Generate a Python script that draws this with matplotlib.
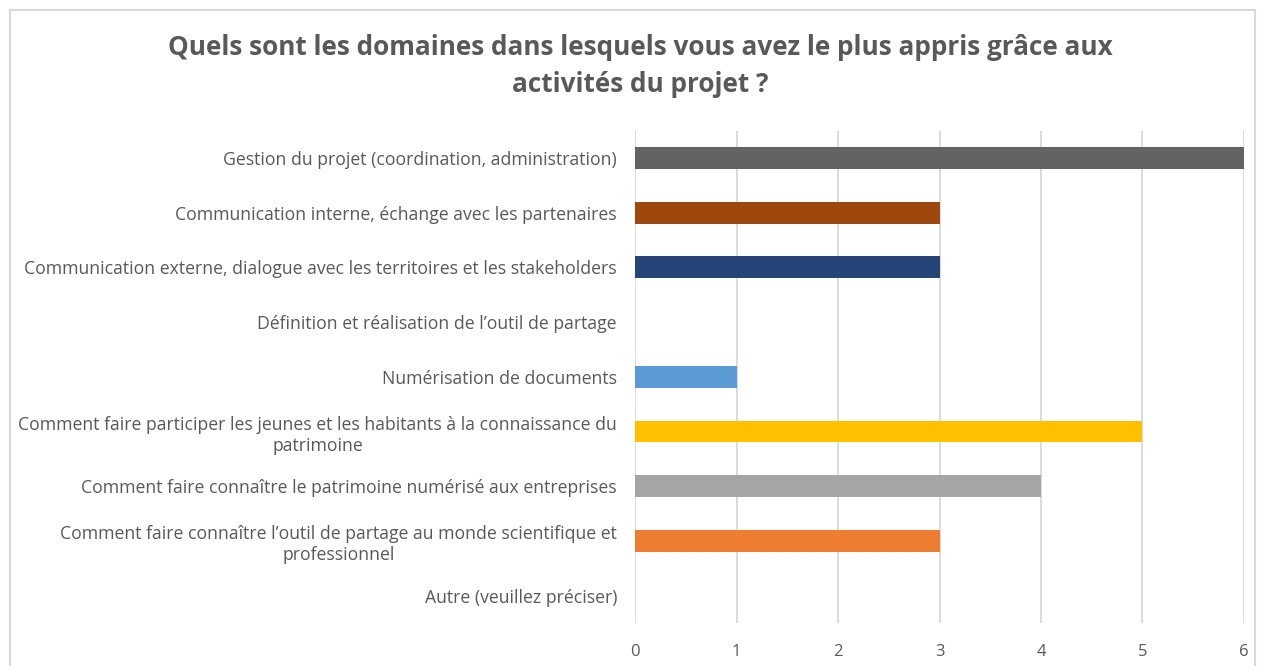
import matplotlib
matplotlib.use("Agg")
import matplotlib.pyplot as plt
from matplotlib.patches import Rectangle

plt.rcParams['font.family'] = ['Open Sans', 'DejaVu Sans']

categories = [
    "Gestion du projet (coordination, administration)",
    "Communication interne, échange avec les partenaires",
    "Communication externe, dialogue avec les territoires et les stakeholders",
    "Définition et réalisation de l\u2019outil de partage",
    "Numérisation de documents",
    "Comment faire participer les jeunes et les habitants à la connaissance du\npatrimoine",
    "Comment faire connaître le patrimoine numérisé aux entreprises",
    "Comment faire connaître l\u2019outil de partage au monde scientifique et\nprofessionnel",
    "Autre (veuillez préciser)",
]
values = [6, 3, 3, 0, 1, 5, 4, 3, 0]
colors = ["#636363", "#9E480E", "#264478", "#4472C4", "#5B9BD5",
          "#FFC000", "#A5A5A5", "#ED7D31", "#70AD47"]
title = "Quels sont les domaines dans lesquels vous avez le plus appris grâce aux\nactivités du projet ?"

txt = "#595959"

fig = plt.figure(figsize=(12.61, 6.66), dpi=100)
ax = fig.add_axes([0.5036, 0.0646, 0.4829, 0.7392])

ypos = list(range(len(categories)))
ax.barh(ypos, values, height=0.4, color=colors, zorder=3)
ax.set_ylim(len(categories) - 0.5, -0.5)
ax.set_xlim(0, 6)
ax.set_xticks(range(0, 7))
ax.set_yticks(ypos)
ax.set_yticklabels(categories, fontsize=12.7, color=txt, multialignment="center",
                   linespacing=1.25)
ax.tick_params(axis="y", length=0, pad=13)
ax.tick_params(axis="x", length=0, pad=15, labelsize=12, labelcolor=txt)
ax.grid(axis="x", color="#D9D9D9", lw=1.3, zorder=0)
for s in ax.spines.values():
    s.set_visible(False)

fig.text(0.508, 0.901, title, ha="center", va="center", fontsize=18.8,
         fontweight="bold", color=txt, linespacing=1.5)

fig.patches.append(Rectangle((10 / 1261, -0.01), 1245 / 1261, 1 - 10 / 666 + 0.01,
                             transform=fig.transFigure, fill=False,
                             edgecolor="#D9D9D9", lw=1.5))

fig.savefig("out.png", dpi=100)
